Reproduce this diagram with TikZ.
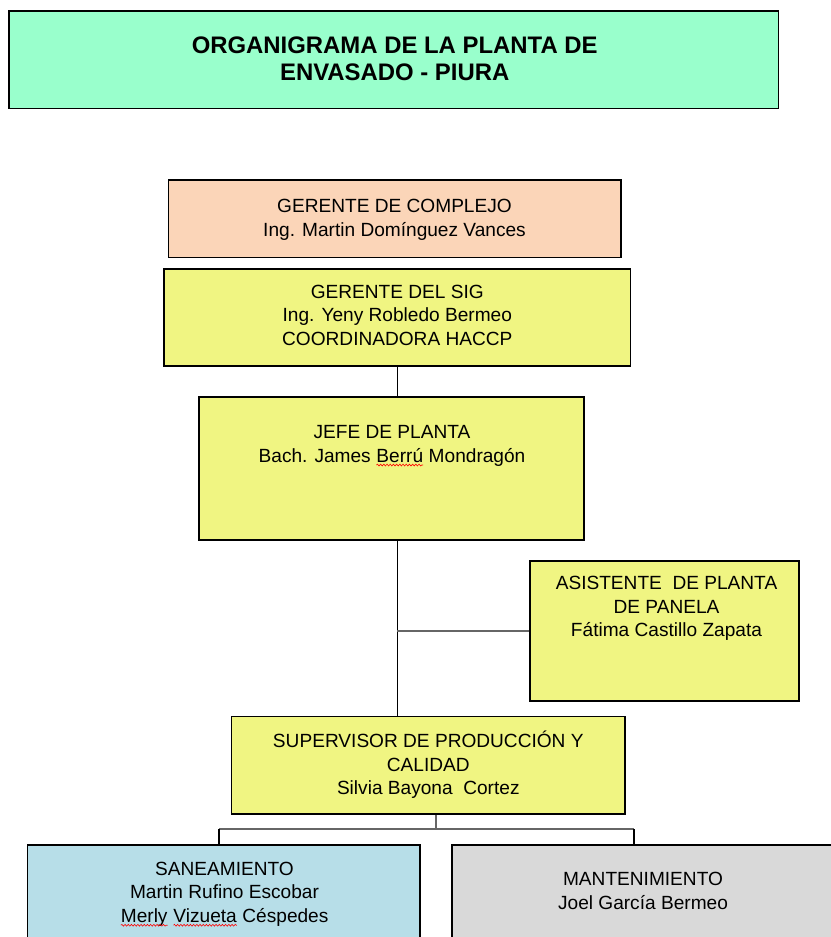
\documentclass[tikz,border=0pt]{standalone}
\usepackage{fontspec}
\setmainfont{Liberation Sans}
\usepackage{xcolor}
\usetikzlibrary{decorations.pathmorphing}

% box colours
\definecolor{boxmint}{HTML}{99FFCC}
\definecolor{boxpeach}{HTML}{FBD5B8}
\definecolor{boxyellow}{HTML}{F0F582}
\definecolor{boxblue}{HTML}{B7DEE8}
\definecolor{boxgray}{HTML}{D9D9D9}

% line strut used in every box
\newcommand\boxstrut{\rule[-9.5pt]{0pt}{23.5pt}}

\tikzset{
  txt/.style={align=center, inner sep=0pt, font=\fontsize{19.1}{23.5}\selectfont,
    execute at begin node=\boxstrut, execute at end node=\boxstrut},
  box/.style={rectangle, draw=black, line width=1.6pt, inner sep=0pt},
  link/.style={draw=black, line width=1.5pt},
  fork/.style={draw=black!60, line width=1.9pt},
  wavy/.style={draw=red, line width=0.6pt, decorate,
    decoration={snake, amplitude=0.9pt, segment length=3.2pt}},
}

% red spell-check wave under a word
\newcommand\redwave[1]{\tikz[baseline=(w.base)]{\node[inner sep=0pt, outer sep=0pt] (w) {#1};
  \draw[wavy] ([yshift=-3pt]w.base west) -- ([yshift=-3pt]w.base east);}}

\begin{document}
\begin{tikzpicture}[x=1pt,y=-1pt]
  \useasboundingbox (0,0) rectangle (830,937);

  % Title
  \node[box, fill=boxmint, minimum width=769.3pt, minimum height=97.3pt] (title) at (393.7,59.7) {};
  \node[txt, font=\fontsize{23.9}{26.7}\selectfont\bfseries, xshift=1pt, yshift=-3.5pt] (titletxt) at (title)
        {ORGANIGRAMA DE LA PLANTA DE\\ENVASADO - PIURA};

  % Managers
  \node[box, fill=boxpeach, minimum width=452.4pt, minimum height=77.3pt] (complejo) at (394.5,218.7) {};
  \node[txt, yshift=-4pt] (complejotxt) at (complejo)
        {GERENTE DE COMPLEJO\\Ing. Martin Domínguez Vances};
  \node[box, fill=boxyellow, minimum width=466.7pt, minimum height=97pt] (sig) at (397.3,317.5) {};
  \node[txt, yshift=-2.5pt] (sigtxt) at (sig)
        {GERENTE DEL SIG\\Ing. Yeny Robledo Bermeo\\COORDINADORA HACCP};

  % Plant head, text at the top of the box
  \node[box, fill=boxyellow, minimum width=385pt, minimum height=143pt] (jefe) at (391.5,468.5) {};
  \node[txt, anchor=north] (jefetxt) at (392,425.2)
        {JEFE DE PLANTA\\Bach. James \redwave{Berrú} Mondragón};

  % Assistant
  \node[box, fill=boxyellow, minimum width=269pt, minimum height=140pt] (asist) at (664.5,630.7) {};
  \node[txt, anchor=north] (asisttxt) at (666.5,576)
        {ASISTENTE\ \ DE PLANTA\\DE PANELA\\Fátima Castillo Zapata};

  % Supervisor
  \node[box, fill=boxyellow, minimum width=393.3pt, minimum height=97.3pt] (sup) at (428.3,765.3) {};
  \node[txt, yshift=-2.5pt] (suptxt) at (sup)
        {SUPERVISOR DE PRODUCCIÓN Y\\CALIDAD\\Silvia Bayona\ \ Cortez};

  % Bottom row, cut by the page edge
  \node[box, fill=boxblue, minimum width=392.5pt, minimum height=120pt] (san) at (223.75,905) {};
  \node[txt, anchor=north] (santxt) at (224.5,861.7)
        {SANEAMIENTO\\Martin Rufino Escobar\\\redwave{Merly} \redwave{Vizueta} Céspedes};
  \node[box, fill=boxgray, minimum width=382pt, minimum height=120pt] (mant) at (643,905) {};
  \node[txt, anchor=north] (manttxt) at (643,872.2)
        {MANTENIMIENTO\\Joel García Bermeo};

  % Connectors
  \draw[link] (sig.south) -- (sig.south |- jefe.north);
  \draw[link] (jefe.south -| sig.south) -- (sup.north -| sig.south);
  \draw[fork] (asist.west) -- (asist.west -| sig.south);

  \coordinate (drop) at (436,829);
  \coordinate (forkL) at (219,829);
  \coordinate (forkR) at (634,829);
  \draw[fork] (sup.south -| drop) -- (drop);
  \draw[fork] (forkL) -- (forkR);
  \draw[link] (forkL) -- (forkL |- san.north);
  \draw[link] (forkR) -- (forkR |- mant.north);
\end{tikzpicture}
\end{document}
